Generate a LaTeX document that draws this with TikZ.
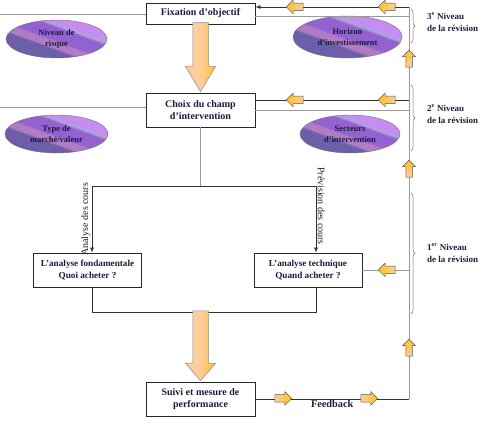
\documentclass[tikz,border=0pt]{standalone}
\usepackage{fontspec}
\setmainfont{Liberation Serif}
\usetikzlibrary{arrows.meta,shapes.geometric,shapes.arrows,decorations.pathreplacing}
\definecolor{inkblue}{HTML}{1C1C3C}
\definecolor{ovdark}{HTML}{6C5EA8}
\definecolor{ovmauve}{HTML}{B07CC4}
\definecolor{ovmid}{HTML}{9462D0}
\definecolor{ovblue}{HTML}{A9A6D8}
\definecolor{ovlav}{HTML}{C68CF2}
\definecolor{peach}{HTML}{FFCD9C}
\definecolor{gold}{HTML}{FFC21A}
\pgfdeclareverticalshading{ovalbands}{100bp}{color(0bp)=(ovdark); color(40bp)=(ovdark);
 color(42bp)=(ovmauve); color(47bp)=(ovmauve); color(49bp)=(ovmid); color(60bp)=(ovmid);
 color(62bp)=(ovblue); color(65bp)=(ovlav); color(100bp)=(ovlav)}

\begin{document}
\begin{tikzpicture}[x=1pt, y=-1pt, >=Latex,
 every node/.style={font=\bfseries\fontsize{8.5}{10.5}\selectfont, text=inkblue},
 box/.style={draw=black!85, fill=white, align=center, inner sep=1pt, line width=0.8pt},
 oval/.style={ellipse, draw=black!55, shading=ovalbands, shading angle=-20, align=center, inner sep=0pt},
 grayline/.style={draw=black!40, line width=0.8pt},
 darkline/.style={draw=black!80, line width=0.6pt},
 blockarr/.style={single arrow, draw=black!65, line width=0.5pt, minimum size=0pt, inner ysep=3.5pt,
   inner xsep=6.25pt, single arrow head extend=3pt, single arrow tip angle=90, anchor=tip},
 bigarr/.style={blockarr, draw=black!45, inner ysep=7.5pt, single arrow head extend=7.5pt, rotate=-90,
   left color=peach, right color=gold, middle color=peach},
 larr/.style={blockarr, rotate=180, left color=gold, right color=peach},
 rarr/.style={blockarr, left color=peach, right color=gold},
 uarr/.style={blockarr, rotate=90, inner ysep=3pt, inner xsep=6.5pt, top color=gold, bottom color=peach},
 level/.style={align=left, anchor=west, inner sep=0pt, font=\bfseries\fontsize{9}{12}\selectfont},
 bracket/.style={draw=black!55, line width=0.5pt, decorate, decoration={brace, amplitude=4pt}}]
\useasboundingbox (0,0) rectangle (483,430);

% main boxes
\node[box, minimum width=109pt, minimum height=21pt, font=\bfseries\fontsize{10}{12}\selectfont] (fix) at (200.5,13.5) {Fixation d'objectif};
\node[box, minimum width=109pt, minimum height=34pt, font=\bfseries\fontsize{10}{12.5}\selectfont] (cho) at (200.5,110) {Choix du champ\\d'intervention};
\node[box, minimum width=108pt, minimum height=34pt, font=\bfseries\fontsize{9.2}{11.5}\selectfont] (fon) at (87.5,270) {L'analyse fondamentale\\Quoi acheter ?};
\node[box, minimum width=108pt, minimum height=34pt, font=\bfseries\fontsize{9.2}{11.5}\selectfont] (tec) at (308,270) {L'analyse technique\\Quand acheter ?};
\node[box, minimum width=109pt, minimum height=34pt, font=\bfseries\fontsize{10}{12.5}\selectfont] (sui) at (200.5,399) {Suivi et mesure de\\performance};

% ovals
\node[oval, minimum width=101pt, minimum height=38pt] (risk) at (56.5,39) {Niveau de\\risque};
\node[oval, minimum width=109pt, minimum height=42pt] (hor) at (347.5,37) {Horizon\\d'investissement};
\node[oval, minimum width=103pt, minimum height=38pt] (mkt) at (56.5,134) {Type de\\marché/valeur};
\node[oval, minimum width=100pt, minimum height=38pt] (sec) at (350,134) {Secteurs\\d'intervention};

% free ends
\coordinate (in1) at (0,14);
\coordinate (in2) at (0,107);
\coordinate (c1) at (409,7);
\coordinate (g1) at (409,16);
\coordinate (c2) at (409,100);
\coordinate (g2) at (409,110);
\coordinate (c3) at (409,270);
\coordinate (c4) at (409,399);
\coordinate (sp) at (200.5,186);
\coordinate (sl) at (92,186);
\coordinate (sr) at (316,186);
\coordinate (ml) at (92,312);
\coordinate (mr) at (316,312);

% connectors
\draw[grayline] (in1) -- (in1 -| fix.west);
\draw[grayline] (in2) -- (in2 -| cho.west);
\draw[darkline, -{Latex[length=5pt,width=4pt]}] (c1) -- (c1 -| fix.east);
\draw[grayline] (fix.east |- g1) -- (g1);
\draw[darkline] (c2) -- (c2 -| cho.east);
\draw[grayline] (cho.east) -- (g2);
\draw[grayline] (c3) -- (tec.east);
\draw[grayline] (c1) -- (c4);
\draw[darkline] (sui.east) -- node[below, inner sep=1.5pt, font=\bfseries\fontsize{10.3}{12}\selectfont] (fb) {Feedback} (c4);
\draw[grayline] (cho.south) -- (sp);
\draw[darkline] (sl) -- (sr);
\draw[darkline, -{Latex[length=5pt,width=4pt]}] (sl) -- node[midway, rotate=90, anchor=south, inner sep=1.5pt, font=\mdseries\fontsize{10}{12}\selectfont] (ana) {Analyse des cours} (sl |- fon.north);
\draw[darkline, -{Latex[length=5pt,width=4pt]}] (sr) -- (sr |- tec.north);
\node[rotate=-90, anchor=south, inner sep=1.5pt, font=\mdseries\fontsize{10}{12}\selectfont] (prev) at (316,206) {Prévision des cours};
\draw[darkline] (ml |- fon.south) -- (ml) -- (mr) -- (mr |- tec.south);

% block arrows (placed by their tips)
\node[bigarr, inner xsep=27.75pt, single arrow tip angle=62] (down1) at (200.5,92) {};
\node[bigarr, inner xsep=30.2pt, single arrow tip angle=82] (down2) at (200.5,381) {};
\node[larr] (l1a) at (286,7) {};
\node[larr] (l1b) at (378,7) {};
\node[larr] (l2a) at (286,100) {};
\node[larr] (l2b) at (378,100) {};
\node[larr] (l3) at (378,270) {};
\node[uarr] (u1) at (409,50) {};
\node[uarr] (u2) at (409,160) {};
\node[uarr] (u3) at (409,339) {};
\node[rarr] (r1) at (292,398.5) {};
\node[rarr] (r2) at (378,398.5) {};

% revision levels
\draw[bracket] (411,9) -- (411,43);
\draw[bracket] (411,85) -- (411,151);
\draw[bracket] (411,193) -- (411,314);
\node[level] (lev3) at (427,22) {3\textsuperscript{e} Niveau\\de la révision};
\node[level] (lev2) at (427,114) {2\textsuperscript{e} Niveau\\de la révision};
\node[level] (lev1) at (427,253) {1\textsuperscript{er} Niveau\\de la révision};
\end{tikzpicture}
\end{document}
